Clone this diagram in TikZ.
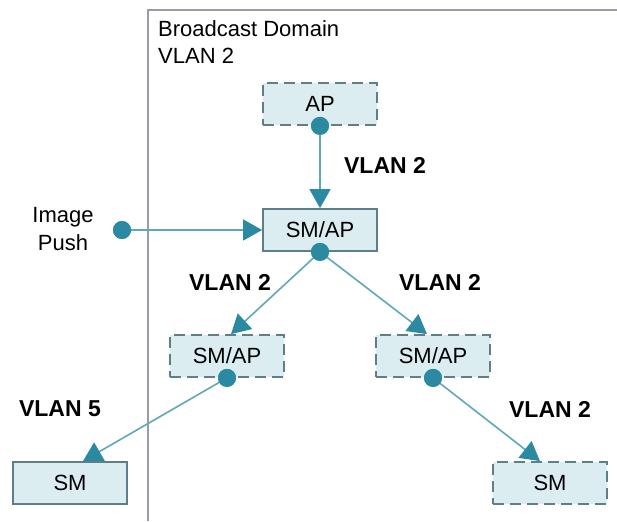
\documentclass[tikz,border=0pt]{standalone}
\usepackage{fontspec}
\setmainfont{Liberation Sans}
\usepackage{tikz}
\usetikzlibrary{arrows.meta, positioning, calc}

\definecolor{boxfill}{HTML}{DCEDF2}
\definecolor{boxline}{HTML}{5F7F88}
\definecolor{linkcol}{HTML}{5EA8B8}
\definecolor{dotcol}{HTML}{2B89A2}
\definecolor{framecol}{HTML}{9A9AA8}

\begin{document}
\begin{tikzpicture}[x=1pt, y=-1pt,
  font=\fontsize{22}{26}\selectfont,
  unit/.style={draw=boxline, fill=boxfill, line width=1.8pt, minimum width=114pt, minimum height=42pt, inner sep=0pt},
  dashunit/.style={unit, dash pattern=on 11pt off 6pt},
  link/.style={linkcol, line width=1.6pt, -{Triangle[length=19pt, width=21pt, color=dotcol]}},
  port/.style={circle, fill=dotcol, minimum size=18pt, inner sep=0pt},
  vlan/.style={font=\fontsize{23}{26}\selectfont\bfseries}]
  \useasboundingbox (0,0) rectangle (617,521);
  % Broadcast domain frame
  \draw[framecol, line width=1.5pt] (148,521) -- (148,10) -- (617,10);
  \node[anchor=north west, align=left, inner sep=0pt] (domain) at (158,20) {Broadcast Domain\\[1pt]VLAN 2};
  % Units
  \node[dashunit] (ap) at (320,104) {AP};
  \node[unit] (smap) at (320,230) {SM/AP};
  \node[dashunit] (smapl) at (227,356) {SM/AP};
  \node[dashunit] (smapr) at (433,356) {SM/AP};
  \node[unit] (sml) at (70,483) {SM};
  \node[dashunit] (smr) at (550,483) {SM};
  % Ports
  \node[port] (apport) at (ap.south) {};
  \node[port] (smapport) at (smap.south) {};
  \node[port] (smaplport) at (smapl.south) {};
  \node[port] (smaprport) at (smapr.south) {};
  \node[port] (pushport) at (122,230) {};
  \node[align=center, inner sep=0pt] (push) at (63,229) {Image\\[2pt]Push};
  % Links
  \draw[link] (apport.center) -- (smap.north);
  \draw[link] (pushport.center) -- (smap.west);
  \draw[link] (smapport.center) -- ($(smapl.north)+(4,0)$);
  \draw[link] (smapport.center) -- ($(smapr.north)+(-6,0)$);
  \draw[link] (smaplport.center) -- ($(sml.north)+(13,0)$);
  \draw[link] (smaprport.center) -- ($(smr.north)+(-10,0)$);
  % Redraw ports on top of links
  \foreach \p in {apport, smapport, smaplport, smaprport, pushport}
    \fill[dotcol] (\p) circle (9pt);
  % VLAN labels
  \node[vlan] (v1) at (385,165) {VLAN 2};
  \node[vlan] (v2) at (230,282) {VLAN 2};
  \node[vlan] (v3) at (440,282) {VLAN 2};
  \node[vlan] (v4) at (60,409) {VLAN 5};
  \node[vlan] (v5) at (550,409) {VLAN 2};
\end{tikzpicture}
\end{document}
